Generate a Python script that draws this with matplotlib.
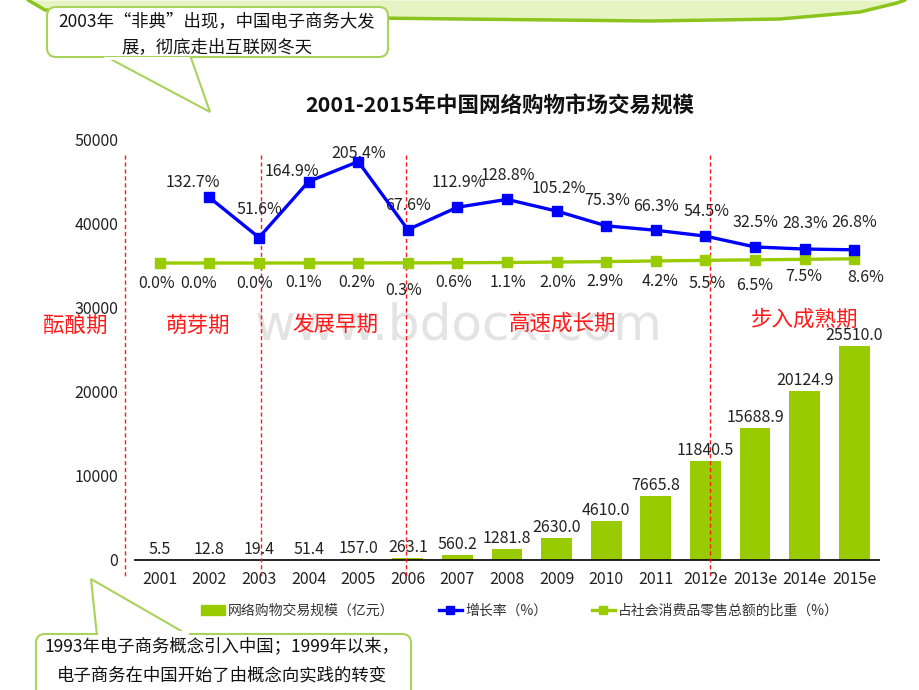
import numpy as np
import matplotlib.pyplot as plt
from matplotlib.patches import Patch, FancyBboxPatch, Polygon
from matplotlib.lines import Line2D

# CJK font first, DejaVu as fallback
plt.rcParams['font.family'] = ['Noto Sans CJK SC', 'DejaVu Sans']

# ---- data ----
years = ['2001', '2002', '2003', '2004', '2005', '2006', '2007', '2008',
         '2009', '2010', '2011', '2012e', '2013e', '2014e', '2015e']
trade_volume = [5.5, 12.8, 19.4, 51.4, 157.0, 263.1, 560.2, 1281.8,
                2630.0, 4610.0, 7665.8, 11840.5, 15688.9, 20124.9, 25510.0]
growth_rate = [132.7, 51.6, 164.9, 205.4, 67.6, 112.9, 128.8, 105.2,
               75.3, 66.3, 54.5, 32.5, 28.3, 26.8]          # from 2002
retail_share = [0.0, 0.0, 0.0, 0.1, 0.2, 0.3, 0.6, 1.1, 2.0, 2.9,
                4.2, 5.5, 6.5, 7.5, 8.6]
y_ticks = [0, 10000, 20000, 30000, 40000, 50000]
phases = ['酝酿期', '萌芽期', '发展早期', '高速成长期', '步入成熟期']
legend_labels = ['网络购物交易规模（亿元）', '增长率（%）', '占社会消费品零售总额的比重（%）']
title = '2001-2015年中国网络购物市场交易规模'
note_top = ['2003年“非典”出现，中国电子商务大发', '展，彻底走出互联网冬天']
note_bottom = ['1993年电子商务概念引入中国；1999年以来，', '电子商务在中国开始了由概念向实践的转变']

GREEN = '#99cc00'
BLUE = '#0000ff'
RED = '#ff1a1a'
W, H = 920, 690

fig = plt.figure(figsize=(9.2, 6.9), dpi=100)
fig.patch.set_facecolor('white')

# background layer (pixel coordinates)
bg = fig.add_axes([0, 0, 1, 1], zorder=0)
bg.set_xlim(0, W)
bg.set_ylim(H, 0)
bg.axis('off')

# green swoosh at the top of the slide
band_x = [28, 45, 200, 460, 650, 780, 860, 897, 905]
band_y = [0, 10, 16, 19, 21, 19, 12, 3, 0]
bg.fill_between(band_x, 0, band_y, color='#e6f4c4', lw=0)
bg.plot(band_x, band_y, color='#8cc41e', lw=2.5, solid_capstyle='round')

# watermark
bg.text(459, 325, 'www.bdocx.com', ha='center', va='center', fontsize=36,
        family='DejaVu Sans', color='#e3e3e3')

# ---- main chart ----
ax = fig.add_axes([135 / W, 1 - 560 / H, (879 - 135) / W, (560 - 140) / H], zorder=2)
ax.set_facecolor('none')
idx = np.arange(len(years))
ax.bar(idx, trade_volume, width=0.62, color=GREEN, zorder=2)
ax.set_xlim(-0.5, len(years) - 0.5)
ax.set_ylim(0, 50000)
ax.set_xticks(idx, years)
ax.set_yticks(y_ticks)
ax.tick_params(axis='x', length=0, pad=8, labelsize=11.5, labelcolor='#222222')
ax.tick_params(axis='y', length=0, pad=12, labelsize=11.5, labelcolor='#222222')
for s in ['top', 'right', 'left']:
    ax.spines[s].set_visible(False)
ax.spines['bottom'].set_color('#111111')
ax.spines['bottom'].set_linewidth(1.3)

for i, v in enumerate(trade_volume):
    ax.annotate(f'{v:.1f}', (i, v), xytext=(0, 2), textcoords='offset pixels',
                ha='center', va='bottom', fontsize=11.5, color='#222222', zorder=4)

# phase separators
for xb in [-0.7, 2.05, 4.97, 11.1]:
    ax.plot([xb, xb], [48200, -2000], color=RED, lw=1, ls=(0, (3, 2)),
            clip_on=False, zorder=3)

# ---- percentage lines on a hidden second scale ----
ax2 = ax.twinx()
ax2.set_ylim(-601, 249)
ax2.axis('off')
ax2.plot(idx, retail_share, color=GREEN, lw=2.4, marker='s', ms=6.5, zorder=3)
ax2.plot(idx[1:], growth_rate, color=BLUE, lw=2.4, marker='s', ms=6.5, zorder=4)

growth_offsets = [(-17, 15), (0, 28), (-17, 10), (0, 8), (0, 24), (1, 25), (1, 24),
                  (2, 23), (1, 25), (0, 24), (1, 25), (0, 24), (1, 26), (0, 27)]
for i, (v, off) in enumerate(zip(growth_rate, growth_offsets)):
    ax2.annotate(f'{v:.1f}%', (i + 1, v), xytext=off, textcoords='offset pixels',
                 ha='center', va='center', fontsize=11.5, color='#222222')

share_offsets = [(-3, -20), (-11, -20), (-4, -20), (-5, -20), (-2, -20), (-4, -28),
                 (-4, -20), (1, -20), (1, -20), (-1, -20), (4, -21), (2, -23),
                 (0, -26), (-1, -17), (11, -19)]
for i, (v, off) in enumerate(zip(retail_share, share_offsets)):
    ax2.annotate(f'{v:.1f}%', (i, v), xytext=off, textcoords='offset pixels',
                 ha='center', va='center', fontsize=11.5, color='#222222')

# ---- titles and phase names ----
fig.text(500 / W, 1 - 106 / H, title, ha='center', va='center',
         fontsize=15.5, fontweight='bold', color='#111111')
for name, (px, py) in zip(phases, [(75, 327), (198, 326), (335, 325), (563, 324), (805, 320)]):
    fig.text(px / W, 1 - py / H, name, ha='center', va='center', fontsize=15.5,
             color=RED)

# ---- legend ----
handles = [Patch(color=GREEN),
           Line2D([0], [0], color=BLUE, lw=2.4, marker='s', ms=6),
           Line2D([0], [0], color=GREEN, lw=2.4, marker='s', ms=6)]
fig.legend(handles, legend_labels, loc='center', bbox_to_anchor=(520 / W, 1 - 611 / H),
           ncol=3, frameon=False, fontsize=10, handlelength=1.7, handletextpad=0.2,
           columnspacing=3.2, labelcolor='#333333')

# ---- callouts ----
fg = fig.add_axes([0, 0, 1, 1], zorder=10)
fg.set_xlim(0, W)
fg.set_ylim(H, 0)
fg.axis('off')
EDGE = '#a9d25a'

fg.add_patch(Polygon([(103, 55), (210, 112), (190, 55)], closed=True,
                     fc='white', ec=EDGE, lw=1.5))
fg.add_patch(FancyBboxPatch((47, 7), 341, 50, boxstyle='round,pad=0,rounding_size=9',
                            fc='white', ec=EDGE, lw=1.5))
fg.add_patch(Polygon([(104, 57), (190, 57), (189, 60), (105, 60)], closed=True,
                     fc='white', ec='none'))
fg.text(217, 22, note_top[0], ha='center', va='center', fontsize=12.5, color='#111111')
fg.text(217, 47, note_top[1], ha='center', va='center', fontsize=12.5, color='#111111')

fg.add_patch(Polygon([(97, 636), (91, 579), (190, 636)], closed=True,
                     fc='white', ec=EDGE, lw=1.5))
fg.add_patch(FancyBboxPatch((36, 634), 375, 80, boxstyle='round,pad=0,rounding_size=9',
                            fc='white', ec=EDGE, lw=1.5))
fg.add_patch(Polygon([(98, 631), (189, 631), (189, 636), (98, 636)], closed=True,
                     fc='white', ec='none'))
fg.text(222, 646, note_bottom[0], ha='center', va='center', fontsize=12.5, color='#111111')
fg.text(222, 675, note_bottom[1], ha='center', va='center', fontsize=12.5, color='#111111')

fig.savefig('out.png', dpi=100, facecolor='white')
